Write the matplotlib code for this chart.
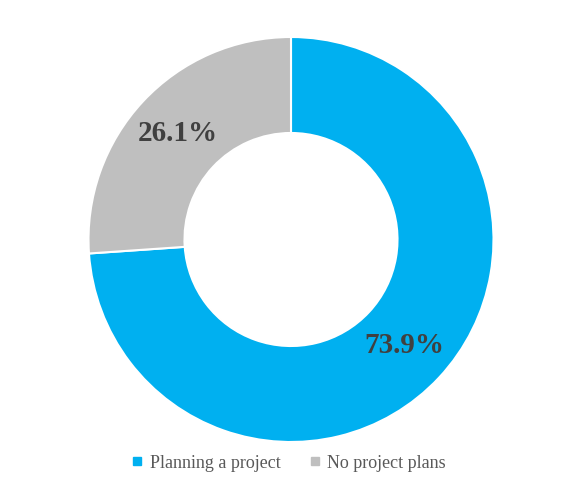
import matplotlib.pyplot as plt
from matplotlib.lines import Line2D

labels = ["Planning a project", "No project plans"]
values = [73.9, 26.1]
colors = ["#00B0F0", "#BFBFBF"]

plt.rcParams['font.family'] = ['Liberation Serif', 'DejaVu Serif']

fig = plt.figure(figsize=(5.76, 4.87), dpi=100)
W, H = 576, 487
cx, cy, r = 291, 487 - 239.5, 202.5
ax = fig.add_axes([(cx - r) / W, (cy - r) / H, 2 * r / W, 2 * r / H])

wedges, texts, autotexts = ax.pie(
    values, colors=colors, startangle=90, counterclock=False,
    autopct="%.1f%%", pctdistance=0.765,
    wedgeprops=dict(width=0.474, edgecolor="white", linewidth=1.5),
    textprops=dict(fontsize=21, fontweight="bold", color="#404040"))
ax.set_xlim(-1, 1)
ax.set_ylim(-1, 1)
ax.set_aspect("equal")

handles = [Line2D([], [], marker="s", linestyle="", markersize=6,
                  markerfacecolor=c, markeredgecolor=c) for c in colors]
fig.legend(handles, labels, loc="center", bbox_to_anchor=(0.5, 1 - 463 / H),
           ncol=2, frameon=False, fontsize=13, handlelength=0.8,
           handletextpad=0.3, columnspacing=1.5, labelcolor="#595959")

fig.savefig("out.png", dpi=100)
